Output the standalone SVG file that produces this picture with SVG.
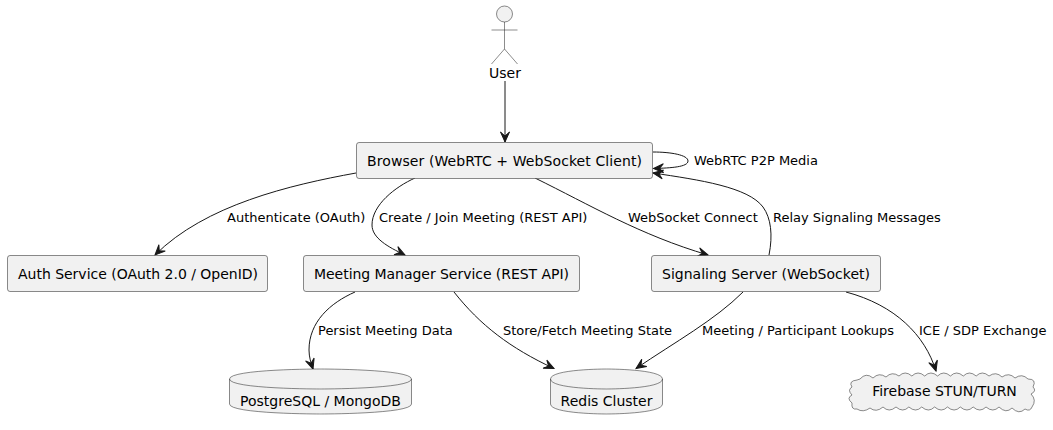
<svg xmlns="http://www.w3.org/2000/svg" width="1053" height="430" viewBox="0 0 1053 430">
<style>
text{font-family:"DejaVu Sans",sans-serif;font-size:14px;fill:#000}
#edge-labels text{font-size:13px}
.s{fill:#F1F1F1;stroke:#181818;stroke-width:.5}
.a{fill:none;stroke:#181818;stroke-width:1;marker-end:url(#h)}
.m{text-anchor:middle}
</style>
<defs><marker id="h" markerUnits="userSpaceOnUse" markerWidth="14" markerHeight="14" refX="12" refY="7" orient="auto"><path d="M2,2.5 L12,7 L2,11.5 L6,7 Z" fill="#181818" stroke="#181818" stroke-width="1"/></marker></defs>
<rect width="1053" height="430" fill="#fff"/>
<g id="connectors">
<path class="a" d="M505,81 L505,142"/>
<path class="a" d="M653,152 C671,152 688,155 688,161 C688,167 671,168 653.5,168.500"/>
<path class="a" d="M356,173 C290,185 205,205 155,255"/>
<path class="a" d="M415,178 C395,187 372,205 372,225 C372,238 388,247 405,255"/>
<path class="a" d="M535,178 C590,205 640,235 708,255"/>
<path class="a" d="M769,255 C773,235 771,218 763,207 C748,187 700,180 653,173"/>
<path class="a" d="M355,292 C330,303 309,322 309,350 C309,357 311,363 313,369"/>
<path class="a" d="M454,292 C480,325 510,348 554,368.500"/>
<path class="a" d="M743,292 C715,320 675,342 636,368.500"/>
<path class="a" d="M846,292 C895,305 925,335 936,371"/>
</g>
<g id="edge-labels">
<text x="694" y="165">WebRTC P2P Media</text>
<text x="227" y="222">Authenticate (OAuth)</text>
<text x="379" y="222">Create / Join Meeting (REST API)</text>
<text x="628" y="222">WebSocket Connect</text>
<text x="773" y="222">Relay Signaling Messages</text>
<text x="318" y="335">Persist Meeting Data</text>
<text x="503" y="335">Store/Fetch Meeting State</text>
<text x="702" y="335">Meeting / Participant Lookups</text>
<text x="919" y="335">ICE / SDP Exchange</text>
</g>
<g id="user">
<circle class="s" cx="504.500" cy="14" r="8"/>
<path d="M504.500,22 V49 M491.500,30 H517.500 M504.500,49 L491.500,64 M504.500,49 L517.500,64" fill="none" stroke="#181818" stroke-width=".5"/>
<text class="m" x="505" y="78">User</text>
</g>
<g id="browser"><rect class="s" x="356.500" y="142.500" width="296" height="36" rx="2.500"/><text x="367" y="166" textLength="275">Browser (WebRTC + WebSocket Client)</text></g>
<g id="auth"><rect class="s" x="7.500" y="255.500" width="260" height="36" rx="2.500"/><text x="18" y="279" textLength="240">Auth Service (OAuth 2.0 / OpenID)</text></g>
<g id="meeting"><rect class="s" x="303.500" y="255.500" width="276" height="36" rx="2.500"/><text x="314" y="279" textLength="255">Meeting Manager Service (REST API)</text></g>
<g id="signaling"><rect class="s" x="651.500" y="255.500" width="229" height="36" rx="2.500"/><text x="662" y="279" textLength="208">Signaling Server (WebSocket)</text></g>
<g id="postgres"><path class="s" d="M229.500,379 C229.500,369 320.500,369 320.500,369 C320.500,369 411.500,369 411.500,379 V404 C411.500,414 320.500,414 320.500,414 C320.500,414 229.500,414 229.500,404 Z"/><path d="M229.500,379 C229.500,389 320.500,389 320.500,389 C320.500,389 411.500,389 411.500,379" fill="none" stroke="#181818" stroke-width=".5"/><text class="m" x="320.500" y="406">PostgreSQL / MongoDB</text></g>
<g id="redis"><path class="s" d="M550.500,379 C550.500,369 606.500,369 606.500,369 C606.500,369 662.500,369 662.500,379 V404 C662.500,414 606.500,414 606.500,414 C606.500,414 550.500,414 550.500,404 Z"/><path d="M550.500,379 C550.500,389 606.500,389 606.500,389 C606.500,389 662.500,389 662.500,379" fill="none" stroke="#181818" stroke-width=".5"/><text class="m" x="606.500" y="406">Redis Cluster</text></g>
<g id="firebase"><path class="s" d="M860,379 q6,-7 13,-1 q6,-6 13,-1 q6,-6 13,-1 q6,-6 12.860,0 q6,-6 12.860,0 q6,-6 12.860,0 q6,-6 12.860,0 q6,-6 12.860,0 q6,-6 12.860,0 q6,-6 12.860,0 q7,-5 13,1 q7,-5 13,1 q7,-5 13,1 q9,0 5,8 q4,4 -2,7 q6,6 1,13 q-2,5 -7,2 q-6,6 -13,-1 q-6,6 -13,-1 q-6,6 -13,0 q-6,6 -12.860,0 q-6,6 -12.860,0 q-6,6 -12.860,0 q-6,6 -12.860,0 q-6,6 -12.860,0 q-6,6 -12.860,0 q-6,6 -12.860,0 q-7,6 -13,0 q-7,6 -13,1 q-7,5 -13,1 q-6,1 -5,-6 q-6,-5 0,-8 q-5,-5 0,-8 q-4,-6 5,-7 Z"/><text class="m" x="944.500" y="396">Firebase STUN/TURN</text></g>
</svg>
